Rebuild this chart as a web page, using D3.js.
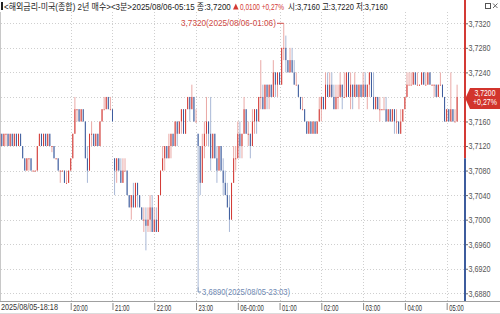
<!DOCTYPE html>
<html>
<head>
<meta charset="utf-8">
<script src="https://cdn.jsdelivr.net/npm/d3@7"></script>
<style>
body{margin:0;background:#fff}
svg{display:block}
text{font-family:"Liberation Sans","Noto Sans CJK KR",sans-serif}
</style>
</head>
<body>
<svg id="chart" width="500" height="314"></svg>
<script>
// 3-minute bars, 2025/08/05 18:18 .. 2025/08/06 05:15
const startTime = new Date(2025, 7, 5, 18, 18);
const barMinutes = 3;
const prevClose = 3.7100;

const opens = [
3.7120,3.7140,3.7120,3.7140,3.7140,3.7120,3.7140,3.7120,3.7140,3.7120,
3.7140,3.7120,3.7100,3.7080,3.7100,3.7100,3.7080,3.7080,3.7080,3.7120,
3.7140,3.7120,3.7140,3.7120,3.7140,3.7120,3.7120,3.7100,3.7100,3.7080,
3.7080,3.7080,3.7060,3.7060,3.7080,3.7100,3.7140,3.7180,3.7180,3.7160,
3.7180,3.7160,3.7100,3.7080,3.7140,3.7140,3.7120,3.7140,3.7120,3.7160,
3.7180,3.7180,3.7200,3.7180,3.7180,3.7100,3.7080,3.7100,3.7080,3.7060,
3.7080,3.7080,3.7040,3.7020,3.7040,3.7020,3.7060,3.7040,3.7020,3.7000,
3.7000,3.6990,3.7000,3.7020,3.6980,3.7000,3.6980,3.7040,3.7080,3.7100,
3.7120,3.7100,3.7120,3.7140,3.7120,3.7160,3.7140,3.7160,3.7180,3.7140,
3.7180,3.7200,3.7180,3.7200,3.7160,3.7140,3.7120,3.7060,3.7120,3.7140,
3.7160,3.7140,3.7100,3.7140,3.7100,3.7080,3.7120,3.7080,3.7060,3.7040,
3.7020,3.7000,3.7060,3.7100,3.7100,3.7140,3.7120,3.7140,3.7180,3.7140,
3.7140,3.7120,3.7160,3.7180,3.7160,3.7200,3.7200,3.7180,3.7220,3.7200,
3.7220,3.7200,3.7240,3.7220,3.7240,3.7220,3.7280,3.7280,3.7260,3.7240,
3.7260,3.7240,3.7220,3.7220,3.7200,3.7180,3.7180,3.7160,3.7140,3.7160,
3.7140,3.7160,3.7140,3.7160,3.7180,3.7200,3.7180,3.7220,3.7200,3.7220,
3.7200,3.7180,3.7200,3.7200,3.7220,3.7200,3.7200,3.7240,3.7200,3.7220,
3.7200,3.7220,3.7200,3.7220,3.7200,3.7220,3.7200,3.7220,3.7240,3.7200,
3.7180,3.7200,3.7180,3.7180,3.7180,3.7180,3.7160,3.7180,3.7160,3.7180,
3.7160,3.7160,3.7140,3.7160,3.7180,3.7200,3.7220,3.7220,3.7220,3.7240,
3.7220,3.7220,3.7220,3.7240,3.7220,3.7220,3.7240,3.7220,3.7220,3.7220,
3.7200,3.7220,3.7220,3.7200,3.7160,3.7180,3.7160,3.7180,3.7160,3.7160];

const highs = [
3.7140,3.7140,3.7140,3.7140,3.7140,3.7140,3.7140,3.7140,3.7140,3.7140,
3.7140,3.7120,3.7100,3.7100,3.7100,3.7100,3.7080,3.7080,3.7120,3.7140,
3.7140,3.7140,3.7140,3.7140,3.7140,3.7120,3.7120,3.7100,3.7100,3.7080,
3.7080,3.7080,3.7080,3.7080,3.7100,3.7140,3.7200,3.7180,3.7180,3.7180,
3.7180,3.7160,3.7120,3.7140,3.7160,3.7140,3.7140,3.7140,3.7160,3.7180,
3.7200,3.7200,3.7200,3.7200,3.7180,3.7100,3.7100,3.7100,3.7100,3.7100,
3.7100,3.7080,3.7040,3.7040,3.7060,3.7060,3.7060,3.7040,3.7020,3.7020,
3.7020,3.7020,3.7040,3.7040,3.7020,3.7020,3.7040,3.7080,3.7120,3.7120,
3.7120,3.7140,3.7140,3.7140,3.7160,3.7160,3.7160,3.7180,3.7180,3.7180,
3.7200,3.7200,3.7220,3.7200,3.7180,3.7140,3.7120,3.7140,3.7160,3.7200,
3.7160,3.7200,3.7140,3.7140,3.7120,3.7120,3.7120,3.7100,3.7080,3.7060,
3.7040,3.7060,3.7120,3.7120,3.7160,3.7160,3.7140,3.7200,3.7180,3.7160,
3.7140,3.7180,3.7180,3.7180,3.7200,3.7260,3.7220,3.7220,3.7220,3.7220,
3.7220,3.7260,3.7240,3.7240,3.7240,3.7280,3.7320,3.7300,3.7260,3.7280,
3.7280,3.7260,3.7240,3.7220,3.7200,3.7200,3.7180,3.7160,3.7160,3.7160,
3.7160,3.7160,3.7160,3.7200,3.7200,3.7200,3.7240,3.7240,3.7240,3.7240,
3.7220,3.7220,3.7220,3.7240,3.7220,3.7240,3.7240,3.7240,3.7240,3.7220,
3.7240,3.7220,3.7220,3.7220,3.7240,3.7240,3.7220,3.7240,3.7240,3.7240,
3.7200,3.7200,3.7200,3.7180,3.7200,3.7200,3.7180,3.7180,3.7180,3.7180,
3.7180,3.7160,3.7180,3.7180,3.7200,3.7240,3.7240,3.7240,3.7240,3.7240,
3.7240,3.7220,3.7240,3.7240,3.7240,3.7240,3.7240,3.7220,3.7220,3.7220,
3.7220,3.7240,3.7220,3.7200,3.7180,3.7180,3.7240,3.7180,3.7180,3.7220];

const lows = [
3.7120,3.7120,3.7120,3.7120,3.7120,3.7120,3.7120,3.7120,3.7120,3.7120,
3.7120,3.7100,3.7080,3.7080,3.7080,3.7080,3.7080,3.7080,3.7080,3.7120,
3.7120,3.7120,3.7120,3.7120,3.7120,3.7110,3.7100,3.7100,3.7080,3.7060,
3.7080,3.7060,3.7060,3.7060,3.7080,3.7100,3.7140,3.7160,3.7160,3.7160,
3.7160,3.7100,3.7060,3.7080,3.7120,3.7120,3.7120,3.7120,3.7120,3.7160,
3.7180,3.7180,3.7180,3.7180,3.7160,3.7040,3.7060,3.7080,3.7060,3.7060,
3.7080,3.7040,3.7020,3.7000,3.7020,3.7020,3.7020,3.7020,3.7000,3.6980,
3.6950,3.6980,3.6980,3.6980,3.6980,3.6980,3.6980,3.7040,3.7080,3.7080,
3.7100,3.7100,3.7100,3.7120,3.7120,3.7120,3.7140,3.7140,3.7140,3.7140,
3.7180,3.7160,3.7180,3.7160,3.7160,3.6890,3.7040,3.7060,3.7100,3.7120,
3.7120,3.7080,3.7100,3.7100,3.7060,3.7080,3.7080,3.7040,3.7040,3.7020,
3.6980,3.7000,3.7060,3.7080,3.7100,3.7100,3.7100,3.7140,3.7140,3.7120,
3.7100,3.7120,3.7140,3.7140,3.7160,3.7180,3.7180,3.7180,3.7180,3.7180,
3.7200,3.7200,3.7200,3.7200,3.7220,3.7220,3.7260,3.7240,3.7240,3.7240,
3.7240,3.7220,3.7220,3.7200,3.7180,3.7180,3.7160,3.7140,3.7140,3.7140,
3.7140,3.7140,3.7140,3.7160,3.7160,3.7180,3.7180,3.7200,3.7200,3.7200,
3.7180,3.7180,3.7180,3.7200,3.7180,3.7200,3.7200,3.7200,3.7180,3.7180,
3.7200,3.7200,3.7180,3.7200,3.7200,3.7200,3.7180,3.7200,3.7200,3.7180,
3.7180,3.7180,3.7160,3.7180,3.7180,3.7160,3.7160,3.7160,3.7160,3.7140,
3.7140,3.7140,3.7140,3.7160,3.7180,3.7200,3.7220,3.7220,3.7220,3.7220,
3.7220,3.7220,3.7220,3.7220,3.7220,3.7220,3.7220,3.7220,3.7200,3.7200,
3.7200,3.7220,3.7200,3.7160,3.7160,3.7160,3.7160,3.7160,3.7160,3.7160];

const closes = [
3.7140,3.7120,3.7140,3.7140,3.7120,3.7140,3.7120,3.7140,3.7120,3.7140,
3.7120,3.7100,3.7080,3.7100,3.7100,3.7080,3.7080,3.7080,3.7120,3.7140,
3.7120,3.7140,3.7120,3.7140,3.7120,3.7120,3.7100,3.7100,3.7080,3.7080,
3.7080,3.7060,3.7060,3.7080,3.7100,3.7140,3.7180,3.7180,3.7160,3.7180,
3.7160,3.7100,3.7080,3.7140,3.7140,3.7120,3.7140,3.7120,3.7160,3.7180,
3.7180,3.7200,3.7180,3.7180,3.7160,3.7080,3.7100,3.7080,3.7060,3.7080,
3.7080,3.7040,3.7020,3.7040,3.7020,3.7060,3.7040,3.7020,3.7000,3.7000,
3.6990,3.7000,3.7020,3.6980,3.7000,3.6980,3.7040,3.7080,3.7100,3.7120,
3.7100,3.7120,3.7140,3.7120,3.7160,3.7140,3.7160,3.7180,3.7140,3.7180,
3.7200,3.7180,3.7200,3.7160,3.7160,3.7120,3.7060,3.7120,3.7140,3.7160,
3.7140,3.7100,3.7140,3.7100,3.7080,3.7120,3.7080,3.7060,3.7040,3.7020,
3.7000,3.7060,3.7100,3.7100,3.7140,3.7120,3.7140,3.7180,3.7140,3.7140,
3.7120,3.7160,3.7180,3.7160,3.7200,3.7200,3.7180,3.7220,3.7200,3.7220,
3.7200,3.7240,3.7220,3.7240,3.7220,3.7280,3.7280,3.7260,3.7240,3.7260,
3.7240,3.7220,3.7220,3.7200,3.7180,3.7180,3.7160,3.7140,3.7160,3.7140,
3.7160,3.7140,3.7160,3.7180,3.7200,3.7180,3.7220,3.7200,3.7220,3.7200,
3.7180,3.7200,3.7200,3.7220,3.7200,3.7200,3.7240,3.7200,3.7220,3.7200,
3.7220,3.7200,3.7220,3.7200,3.7220,3.7200,3.7220,3.7240,3.7200,3.7180,
3.7200,3.7180,3.7180,3.7180,3.7180,3.7160,3.7180,3.7160,3.7180,3.7160,
3.7160,3.7140,3.7160,3.7180,3.7200,3.7220,3.7220,3.7220,3.7240,3.7220,
3.7220,3.7220,3.7240,3.7220,3.7220,3.7240,3.7220,3.7220,3.7220,3.7200,
3.7220,3.7220,3.7200,3.7160,3.7180,3.7160,3.7180,3.7160,3.7160,3.7200];

const priceTicks = [3.7320,3.7280,3.7240,3.7200,3.7160,3.7120,3.7080,3.7040,3.7000,3.6960,3.6920,3.6880];
const hourTicks = [
  new Date(2025,7,5,20,0), new Date(2025,7,5,21,0), new Date(2025,7,5,22,0), new Date(2025,7,5,23,0),
  new Date(2025,7,6,0,0), new Date(2025,7,6,1,0), new Date(2025,7,6,2,0), new Date(2025,7,6,3,0),
  new Date(2025,7,6,4,0), new Date(2025,7,6,5,0)];

const titleMain = "<해외금리-미국(종합) 2년 매수><3분>2025/08/06-05:15 종:3,7200";
const titleChange = "0,0100 +0,27%";
const titleRest = "시:3,7160 고:3,7220 저:3,7160";

const RED = "#d33a35", RED_L = "#eaa9a6", BLUE = "#3d5c9d", BLUE_L = "#a9b8d6";

const bars = closes.map((c, i) => ({
  t: new Date(startTime.getTime() + i * barMinutes * 60000),
  o: opens[i], h: highs[i], l: lows[i], c: c,
  up: c > opens[i] || (c === opens[i] && c >= (i ? closes[i-1] : c))
}));

const fmt = v => v.toFixed(4).replace(".", ",");

// squeeze a text horizontally so it spans the given width (narrow bitmap-like font)
function fitText(parent, str, x, y, width, size, fill, anchor) {
  const t = parent.append("text").attr("font-size", size).attr("fill", fill).text(str);
  const w = t.node().getComputedTextLength();
  const left = anchor === "end" ? x - width : anchor === "middle" ? x - width / 2 : x;
  t.attr("transform", `translate(${left},${y}) scale(${width / w},1)`);
  return t;
}

const svg = d3.select("#chart");
const axisX = 465, plotTop = 12, plotBottom = 301;

const x = d3.scaleTime()
  .domain([startTime, bars[bars.length-1].t])
  .range([-0.3, 457.1]);
const y = d3.scaleLinear().domain([3.6880, 3.7320]).range([293.3, 23.3]);

svg.append("rect").attr("width", 500).attr("height", 314).attr("fill", "#fff");

// grid
const grid = svg.append("g").attr("stroke", "#cfcfcf").attr("stroke-dasharray", "1,2");
grid.selectAll("line.h").data(priceTicks).enter().append("line")
  .attr("x1", 1).attr("x2", axisX - 1)
  .attr("y1", d => Math.round(y(d)) + 0.5).attr("y2", d => Math.round(y(d)) + 0.5);
grid.selectAll("line.v").data(hourTicks).enter().append("line")
  .attr("x1", d => Math.round(x(d)) + 0.5).attr("x2", d => Math.round(x(d)) + 0.5)
  .attr("y1", plotTop).attr("y2", plotBottom);

svg.append("line").attr("x1", 0.5).attr("x2", 0.5).attr("y1", plotTop).attr("y2", plotBottom)
  .attr("stroke", "#c8c8c8");

// candles
const plot = svg.append("g");
const candle = plot.selectAll("g.c").data(bars).enter().append("g");
candle.append("rect")
  .attr("x", d => x(d.t) - 0.5).attr("width", 1)
  .attr("y", d => y(d.h)).attr("height", d => Math.max(1, y(d.l) - y(d.h)))
  .attr("fill", d => d.up ? RED_L : BLUE_L);
candle.append("rect")
  .attr("x", d => x(d.t) - 0.5).attr("width", 1)
  .attr("y", d => y(Math.max(d.o, d.c)))
  .attr("height", d => Math.max(1, Math.abs(y(d.o) - y(d.c))))
  .attr("fill", d => d.up ? RED : BLUE);

// high / low annotations
const hiBar = bars.reduce((a, b) => b.h > a.h ? b : a);
const loBar = bars.reduce((a, b) => b.l < a.l ? b : a);
const stamp = d3.timeFormat("%Y/%m/%d-%H:%M");
svg.append("line").attr("x1", 277).attr("x2", x(hiBar.t)).attr("y1", y(hiBar.h)).attr("y2", y(hiBar.h))
  .attr("stroke", "#d04a45");
fitText(svg, `${fmt(hiBar.h)}(${stamp(hiBar.t)})`, 276, y(hiBar.h) + 3, 95, 9, "#d04a45", "end");
const lx = x(loBar.t);
svg.append("path").attr("d", `M${lx},${y(loBar.l)}V292H${lx + 3}`).attr("fill", "none").attr("stroke", "#6f89b3");
fitText(svg, `${fmt(loBar.l)}(${stamp(loBar.t)})`, lx + 4, 295, 88, 9, "#6f89b3");

// bottom axis band
svg.append("line").attr("x1", 0).attr("x2", 500).attr("y1", plotBottom + 0.5).attr("y2", plotBottom + 0.5).attr("stroke", "#a0a0a0");
svg.append("line").attr("x1", 0).attr("x2", 500).attr("y1", 313.5).attr("y2", 313.5).attr("stroke", "#dcdcdc");
const xAxis = d3.axisBottom(x).tickValues(hourTicks).tickSize(7).tickSizeOuter(0)
  .tickFormat(d => d.getHours() === 0 ? "06-00:00" : d3.timeFormat("%H:%M")(d));
const gx = svg.append("g").attr("transform", `translate(0,${plotBottom + 2})`).call(xAxis);
gx.select(".domain").remove();
gx.selectAll(".tick line").attr("stroke", "#888");
gx.selectAll(".tick text").attr("text-anchor", "start").attr("x", 0).attr("y", 0).attr("dy", null)
  .attr("font-size", 9).attr("fill", "#333").attr("font-family", null)
  .each(function(d) {
    const w = this.getComputedTextLength();
    const target = d.getHours() === 0 ? 23.5 : 14.6;
    d3.select(this).attr("transform", `translate(2,8) scale(${target / w},1)`);
  });
fitText(svg, stamp(startTime), 1, 310, 57, 9, "#333");

// right axis (the 3,7200 label sits under the current price box)
const yAxis = d3.axisRight(y).tickValues(priceTicks.filter(v => v !== 3.7200)).tickSize(2).tickFormat(fmt);
const gy = svg.append("g").attr("transform", `translate(${axisX + 1},0)`).call(yAxis);
gy.select(".domain").remove();
gy.selectAll(".tick line").attr("stroke", "#666");
gy.selectAll(".tick text").attr("x", 0).attr("font-size", 9).attr("fill", "#555").attr("font-family", null)
  .each(function() {
    const w = this.getComputedTextLength();
    d3.select(this).attr("transform", `translate(2.5,0) scale(${22 / w},1)`);
  });
svg.append("line").attr("x1", axisX).attr("x2", axisX).attr("y1", 0).attr("y2", y(prevClose))
  .attr("stroke", RED).attr("stroke-width", 2);
svg.append("line").attr("x1", axisX).attr("x2", axisX).attr("y1", y(prevClose)).attr("y2", plotBottom)
  .attr("stroke", BLUE).attr("stroke-width", 2);

// current price box
const last = bars[bars.length - 1];
const cy = y(last.c);
svg.append("path")
  .attr("d", `M466,${cy}L470,${cy - 9}H500V${cy + 12}H470L466,${cy + 3}Z`)
  .attr("fill", "#d2342c");
fitText(svg, fmt(last.c), 485, cy - 1, 21, 8.5, "#fff", "middle");
fitText(svg, `+${((last.c - prevClose) / prevClose * 100).toFixed(2).replace(".", ",")}%`, 485, cy + 8.5, 24, 8.5, "#fff", "middle");

// title
svg.append("rect").attr("x", 1).attr("y", 2).attr("width", 2).attr("height", 8).attr("fill", "#222");
fitText(svg, titleMain, 4, 9.5, 227, 9, "#222");
svg.append("path").attr("d", "M233,9.5L235.8,3.5L238.6,9.5Z").attr("fill", "#d33a35");
fitText(svg, titleChange, 240, 9.5, 44, 9, "#d33a35");
fitText(svg, titleRest, 288, 9.5, 100, 9, "#222");

// window icons
svg.append("rect").attr("x", 485.5).attr("y", 3.5).attr("width", 5).attr("height", 5)
  .attr("fill", "none").attr("stroke", "#555");
svg.append("path").attr("d", "M493,3.5L497.5,8M497.5,3.5L493,8").attr("stroke", "#666");
</script>
</body>
</html>
